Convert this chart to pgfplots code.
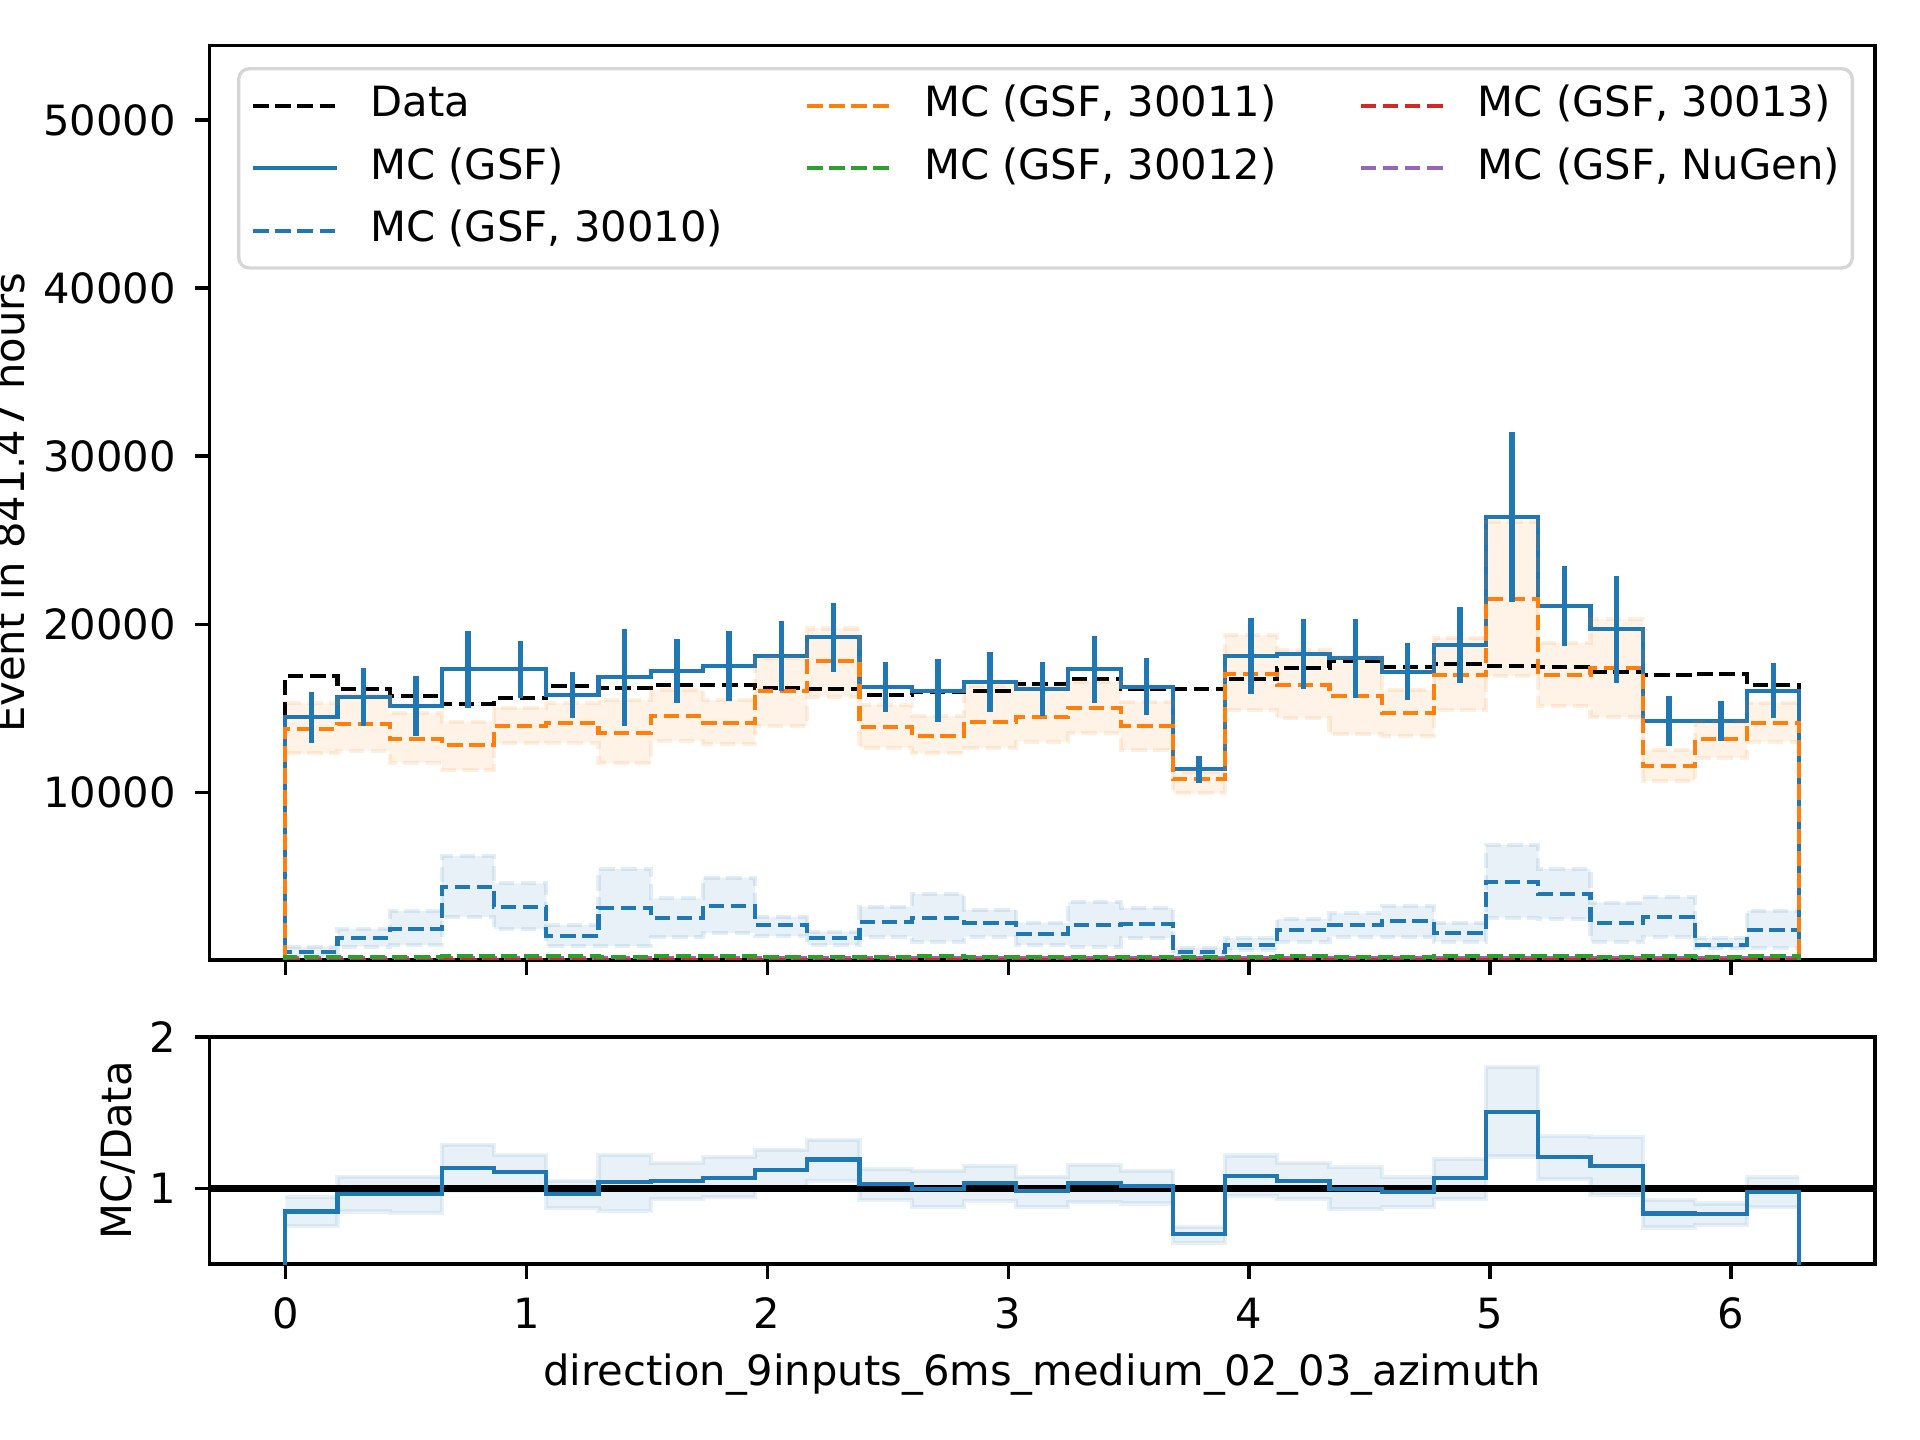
\documentclass[border=0pt]{standalone}
\usepackage{fontspec}
\setmainfont{DejaVu Sans}
\usepackage{pgfplots}
\usepackage{pgfplotstable}
\pgfplotsset{compat=1.18}
\usepgfplotslibrary{fillbetween}

\definecolor{tabblue}{HTML}{1F77B4}
\definecolor{taborange}{HTML}{FF7F0E}
\definecolor{tabgreen}{HTML}{2CA02C}
\definecolor{tabred}{HTML}{D62728}
\definecolor{tabpurple}{HTML}{9467BD}
\definecolor{legedge}{RGB}{214,214,214}
\tikzset{mpldash/.style={dash pattern=on 3.7pt off 1.6pt}}

% step lines: zero row, 29 bins (left edges), closing row at 2pi, zero row
\pgfplotstableread{
x data mc o11 b10 g12 r13 nug ratio
0.00000 0 0 0 0 0 0 0 0
0.00000 16920 14460 13780 518 220 40 120 0.848
0.21666 16130 15650 14080 1350 220 40 120 0.963
0.43332 15750 15130 13190 1886 220 40 120 0.963
0.64998 15270 17320 12830 4384 280 40 120 1.133
0.86665 15590 17320 13960 3195 280 40 120 1.107
1.08331 16340 15790 14140 1470 280 40 120 0.963
1.29997 16190 16840 13550 3135 220 40 120 1.041
1.51663 16400 17240 14540 2540 280 40 120 1.047
1.73329 16400 17510 14140 3254 280 40 120 1.070
1.94996 16190 18110 16010 2088 220 40 120 1.123
2.16662 16160 19220 17810 1350 220 40 120 1.191
2.38328 15800 16280 13900 2300 220 40 120 1.030
2.59994 15980 16040 13370 2540 280 40 120 0.997
2.81660 16030 16560 14200 2243 220 40 120 1.034
3.03326 16460 16160 14500 1590 220 40 120 0.981
3.24992 16720 17320 15030 2124 220 40 120 1.034
3.46659 16130 16280 13960 2165 220 40 120 1.014
3.68325 16160 11370 10770 518 220 40 120 0.702
3.89991 16720 18110 17060 934 220 40 120 1.080
4.11657 17380 18230 16380 1790 280 40 120 1.047
4.33323 17830 17970 15750 2124 220 40 120 0.997
4.54989 17470 17180 14740 2325 220 40 120 0.974
4.76656 17630 18760 16980 1650 280 40 120 1.070
4.98322 17530 26360 21500 4664 280 40 120 1.505
5.19988 17470 21080 16980 3970 280 40 120 1.207
5.41654 17180 19700 17380 2243 220 40 120 1.147
5.63320 16980 14260 11580 2600 280 40 120 0.835
5.84986 17040 14260 13170 934 220 40 120 0.830
6.06653 16380 16040 14140 1790 280 40 120 0.974
6.28319 16380 16040 14140 1790 280 40 120 0.974
6.28319 0 0 0 0 0 0 0 0
}\hist

% uncertainty bands: 29 bins (left edges) and closing row at 2pi
\pgfplotstableread{
x o11lo o11hi b10lo b10hi rlo rhi
0.00000 12320 15290 220 815 0.753 0.941
0.21666 12475 15790 815 1868 0.848 1.078
0.43332 11760 14740 898 2940 0.840 1.078
0.64998 11330 14200 2564 6210 0.985 1.289
0.86665 12910 15030 1850 4586 0.985 1.222
1.08331 12950 15290 857 2088 0.870 1.052
1.29997 11725 15490 857 5420 0.853 1.222
1.51663 13070 16090 1374 3694 0.930 1.167
1.73329 12870 15490 1612 4920 0.941 1.207
1.94996 13940 17970 1452 2600 0.997 1.256
2.16662 15690 19750 916 1710 1.052 1.322
2.38328 12650 15190 1410 3195 0.924 1.129
2.59994 12320 14540 1112 3950 0.879 1.118
2.81660 12620 16320 1410 3000 0.919 1.147
3.03326 13010 16280 916 2243 0.879 1.078
3.24992 13510 16580 815 3493 0.908 1.156
3.46659 12520 15390 1315 3100 0.901 1.118
3.68325 9940 11230 320 755 0.642 0.746
3.89991 14900 19360 618 1315 0.952 1.218
4.11657 14400 18470 1112 2445 0.930 1.167
4.33323 13450 18070 1410 2800 0.864 1.140
4.54989 13350 16090 1374 3236 0.879 1.074
4.76656 14900 19200 1112 2243 0.930 1.196
4.98322 16920 26100 2540 6865 1.211 1.804
5.19988 15130 18900 2480 5437 1.063 1.344
5.41654 14460 20290 1112 3432 0.959 1.339
5.63320 10670 12520 1410 3754 0.742 0.924
5.84986 12060 14200 720 1315 0.760 0.901
6.06653 13010 15330 755 2957 0.875 1.074
6.28319 13010 15330 755 2957 0.875 1.074
}\bands

% MC (GSF) error bars at bin centres: lower end, upper end, gap
\pgfplotstableread{
x y
0.10833 12930
0.10833 15990
0.10833 nan
0.32499 13930
0.32499 17370
0.32499 nan
0.54166 13355
0.54166 16905
0.54166 nan
0.75832 15030
0.75832 19610
0.75832 nan
0.97498 15620
0.97498 19020
0.97498 nan
1.19164 14430
1.19164 17150
1.19164 nan
1.40830 13940
1.40830 19740
1.40830 nan
1.62496 15340
1.62496 19140
1.62496 nan
1.84163 15440
1.84163 19580
1.84163 nan
2.05829 16040
2.05829 20180
2.05829 nan
2.27495 17150
2.27495 21290
2.27495 nan
2.49161 14780
2.49161 17780
2.49161 nan
2.70827 14170
2.70827 17910
2.70827 nan
2.92493 14760
2.92493 18360
2.92493 nan
3.14159 14560
3.14159 17760
3.14159 nan
3.35826 15340
3.35826 19300
3.35826 nan
3.57492 14590
3.57492 17970
3.57492 nan
3.79158 10570
3.79158 12170
3.79158 nan
4.00824 15860
4.00824 20360
4.00824 nan
4.22490 16135
4.22490 20325
4.22490 nan
4.44156 15610
4.44156 20330
4.44156 nan
4.65823 15490
4.65823 18870
4.65823 nan
4.87489 16480
4.87489 21040
4.87489 nan
5.09155 21300
5.09155 31420
5.09155 nan
5.30821 18680
5.30821 23480
5.30821 nan
5.52487 16530
5.52487 22870
5.52487 nan
5.74153 12770
5.74153 15750
5.74153 nan
5.95820 13080
5.95820 15440
5.95820 nan
6.17486 14390
6.17486 17690
}\errs

\pgfplotsset{
  mplaxis/.style={
    scale only axis, width=399.7pt,
    xmin=-0.3142, xmax=6.5973,
    axis line style={line width=0.8pt},
    tick align=outside, tick pos=left,
    major tick length=3.5pt,
    tick style={line width=0.8pt, black},
    xtick={0,1,2,3,4,5,6},
    scaled ticks=false,
    xticklabel style={inner sep=0pt, anchor=north, yshift=-4.4pt},
    yticklabel style={inner sep=0pt, anchor=east, xshift=-4.4pt},
    ylabel style={inner sep=0pt, anchor=base},
  },
  steps/.style={const plot mark left, line width=1pt, forget plot},
}

\begin{document}
\begin{tikzpicture}

% ---------------- main panel ----------------
\begin{axis}[mplaxis,
  at={(50.3pt,115.2pt)}, anchor=south west, height=219.5pt,
  ymin=20, ymax=54440,
  ytick={10000,20000,30000,40000,50000},
  yticklabels={10000,20000,30000,40000,50000},
  xticklabels={,,,,,,},
  ylabel={Event in 841.47 hours},
  ylabel style={at={(axis description cs:-0.1111,0.5)}},
  legend columns=3,
  legend cell align=left,
  legend image code/.code={\draw[#1, line width=1pt] (0pt,0pt) -- (20pt,0pt);},
  legend style={at={(axis description cs:0.0165,0.9763)}, anchor=north west,
    draw=legedge, line width=0.8pt, rounded corners=2.5pt, fill=white,
    inner xsep=3.0pt, inner ysep=3.9pt, row sep=5pt,
    nodes={inner sep=0pt, text height=7.6pt, text depth=2.4pt},
    /tikz/every odd column/.append style={column sep=7.6pt},
    /tikz/every even column/.append style={column sep=19.7pt}},
]
\addplot[black, mpldash, steps] table[x=x, y=data]{\hist};
\addplot[tabblue, steps] table[x=x, y=mc]{\hist};

% MC (GSF, 30010) with band
\addplot[name path=blo, tabblue, draw opacity=0.12, mpldash, steps] table[x=x, y=b10lo]{\bands};
\addplot[name path=bhi, tabblue, draw opacity=0.12, mpldash, steps] table[x=x, y=b10hi]{\bands};
\addplot[fill=tabblue, fill opacity=0.1, draw=none, forget plot] fill between[of=blo and bhi];
\addplot[tabblue, mpldash, steps] table[x=x, y=b10]{\hist};

% MC (GSF, 30011) with band
\addplot[name path=olo, taborange, draw opacity=0.12, mpldash, steps] table[x=x, y=o11lo]{\bands};
\addplot[name path=ohi, taborange, draw opacity=0.12, mpldash, steps] table[x=x, y=o11hi]{\bands};
\addplot[fill=taborange, fill opacity=0.1, draw=none, forget plot] fill between[of=olo and ohi];
\addplot[taborange, mpldash, steps] table[x=x, y=o11]{\hist};

\addplot[tabpurple, mpldash, steps] table[x=x, y=nug]{\hist};
\addplot[tabred, mpldash, steps] table[x=x, y=r13]{\hist};
\addplot[tabgreen, mpldash, steps] table[x=x, y=g12]{\hist};

% MC (GSF) error bars
\addplot[tabblue, line width=1.3pt, forget plot, unbounded coords=jump]
  table[x=x, y=y]{\errs};

\addlegendimage{black, mpldash}\addlegendentry{Data}
\addlegendimage{taborange, mpldash}\addlegendentry{MC (GSF, 30011)}
\addlegendimage{tabred, mpldash}\addlegendentry{MC (GSF, 30013)}
\addlegendimage{tabblue}\addlegendentry{MC (GSF)}
\addlegendimage{tabgreen, mpldash}\addlegendentry{MC (GSF, 30012)}
\addlegendimage{tabpurple, mpldash}\addlegendentry{MC (GSF, NuGen)}
\addlegendimage{tabblue, mpldash}\addlegendentry{MC (GSF, 30010)}
\end{axis}

% ---------------- ratio panel ----------------
\begin{axis}[mplaxis,
  at={(50.3pt,42.2pt)}, anchor=south west, height=54.5pt,
  ymin=0.5, ymax=2,
  ytick={1,2}, yticklabels={1,2},
  xticklabels={0,1,2,3,4,5,6},
  xlabel={direction\_9inputs\_6ms\_medium\_02\_03\_azimuth},
  xlabel style={at={(axis description cs:0.5,0)}, anchor=north, inner sep=0pt, yshift=-21.4pt},
  ylabel={MC/Data},
  ylabel style={at={(axis description cs:-0.047,0.5)}},
]
\addplot[name path=rlo, tabblue, draw opacity=0.1, steps] table[x=x, y=rlo]{\bands};
\addplot[name path=rhi, tabblue, draw opacity=0.1, steps] table[x=x, y=rhi]{\bands};
\addplot[black, line width=1.5pt, forget plot] coordinates {(-0.3142,1) (6.5973,1)};
\addplot[tabblue, steps] table[x=x, y=ratio]{\hist};
\addplot[fill=tabblue, fill opacity=0.1, draw=none, forget plot] fill between[of=rlo and rhi];
\end{axis}

\pgfresetboundingbox
\path[use as bounding box] (0pt,0pt) rectangle (460.8pt,345.6pt);
\end{tikzpicture}
\end{document}
